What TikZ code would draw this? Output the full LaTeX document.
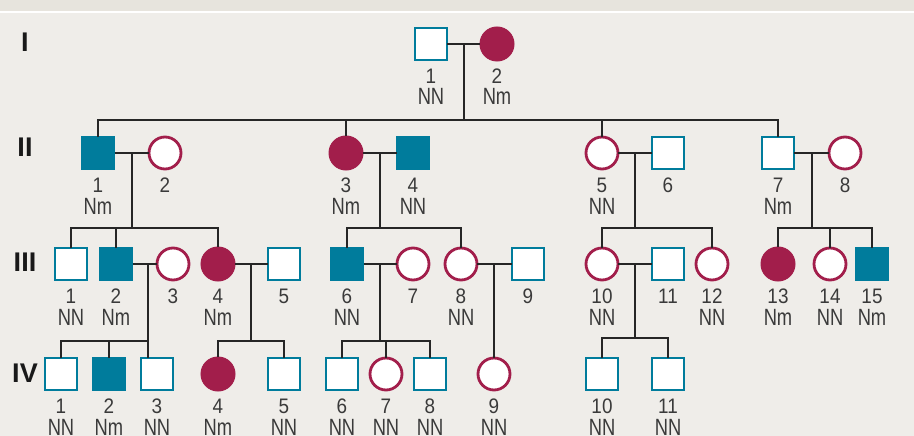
\documentclass[tikz,border=0pt]{standalone}
\usepackage{fontspec}
\setmainfont{Liberation Sans}
\newfontfamily\numf{Liberation Sans}[FakeStretch=0.9]
\newfontfamily\genf{Liberation Sans}[FakeStretch=0.78]
\definecolor{bgc}{HTML}{EFEDE9}
\definecolor{bandc}{HTML}{E7E4DD}
\definecolor{tealc}{HTML}{007C9C}
\definecolor{crimc}{HTML}{A21E4B}
\definecolor{linec}{HTML}{262626}
\definecolor{txtc}{HTML}{3A3A3A}
\tikzset{
  sym/.style={inner sep=0pt, outer sep=0pt},
  sqO/.style={sym, rectangle, draw=tealc, fill=white, line width=2.4pt, minimum size=31.6pt},
  sqF/.style={sym, rectangle, draw=tealc, fill=tealc, line width=1pt, minimum size=33pt},
  ciO/.style={sym, circle, draw=crimc, fill=white, line width=2.8pt, minimum size=32pt},
  ciF/.style={sym, circle, draw=crimc, fill=crimc, line width=1pt, minimum size=34pt},
  numtxt/.style={inner sep=0pt, anchor=base, text=txtc, font=\numf\fontsize{21}{22}\selectfont},
  genotxt/.style={inner sep=0pt, anchor=base, text=txtc, font=\genf\fontsize{23.5}{24}\selectfont},
  gentxt/.style={inner sep=0pt, text=black!90, font=\bfseries\fontsize{27}{28}\selectfont},
  conn/.style={draw=linec, line width=2pt},
}
\newcommand\PedP[6]{%
  \node[#2] (#1) at (#3,#4) {};
  \node[numtxt] (#1-n) at (#3,#4+39.5) {#5};
  \node[genotxt] (#1-g) at (#3,#4+61) {#6};
}
\begin{document}
\begin{tikzpicture}[x=1pt,y=-1pt]
\useasboundingbox (0,0) rectangle (914,436);
\fill[bgc] (0,0) rectangle (914,436);
\fill[bandc] (0,0) rectangle (914,11);
\fill[white] (0,11) rectangle (914,13.5);
% generation labels
\node[gentxt] (gI) at (25,42) {I};
\node[gentxt] (gII) at (25,147.5) {II};
\node[gentxt] (gIII) at (25,262) {III};
\node[gentxt] (gIV) at (25,373) {IV};
% coordinates
\coordinate (sI) at (464,120);
\coordinate (mI) at (464,44);
\coordinate (sIIa) at (132,228);
\coordinate (mIIa) at (132,153);
\coordinate (sIIb) at (380,228);
\coordinate (mIIb) at (380,153);
\coordinate (sIIc) at (635,228);
\coordinate (mIIc) at (635,153);
\coordinate (sIId) at (812,228);
\coordinate (mIId) at (812,153);
\coordinate (mIIIa) at (148,264);
\coordinate (sIIIa) at (148,341);
\coordinate (mIIIb) at (251,264);
\coordinate (sIIIb) at (251,341);
\coordinate (mIIIc) at (380,264);
\coordinate (sIIIc) at (380,341);
\coordinate (mIIId) at (494,264);
\coordinate (mIIIe) at (635,264);
\coordinate (sIIIe) at (635,338);
% people
\PedP{I-1}{sqO}{431}{44}{1}{NN}
\PedP{I-2}{ciF}{497}{44}{2}{Nm}
\PedP{II-1}{sqF}{98}{153}{1}{Nm}
\PedP{II-2}{ciO}{165}{153}{2}{}
\PedP{II-3}{ciF}{346}{153}{3}{Nm}
\PedP{II-4}{sqF}{413}{153}{4}{NN}
\PedP{II-5}{ciO}{602}{153}{5}{NN}
\PedP{II-6}{sqO}{668}{153}{6}{}
\PedP{II-7}{sqO}{778}{153}{7}{Nm}
\PedP{II-8}{ciO}{845}{153}{8}{}
\PedP{III-1}{sqO}{71}{264}{1}{NN}
\PedP{III-2}{sqF}{116}{264}{2}{Nm}
\PedP{III-3}{ciO}{173}{264}{3}{}
\PedP{III-4}{ciF}{218}{264}{4}{Nm}
\PedP{III-5}{sqO}{284}{264}{5}{}
\PedP{III-6}{sqF}{347}{264}{6}{NN}
\PedP{III-7}{ciO}{413}{264}{7}{}
\PedP{III-8}{ciO}{461}{264}{8}{NN}
\PedP{III-9}{sqO}{528}{264}{9}{}
\PedP{III-10}{ciO}{602}{264}{10}{NN}
\PedP{III-11}{sqO}{668}{264}{11}{}
\PedP{III-12}{ciO}{712}{264}{12}{NN}
\PedP{III-13}{ciF}{778}{264}{13}{Nm}
\PedP{III-14}{ciO}{830}{264}{14}{NN}
\PedP{III-15}{sqF}{872}{264}{15}{Nm}
\PedP{IV-1}{sqO}{61}{374}{1}{NN}
\PedP{IV-2}{sqF}{109}{374}{2}{Nm}
\PedP{IV-3}{sqO}{157}{374}{3}{NN}
\PedP{IV-4}{ciF}{218}{374}{4}{Nm}
\PedP{IV-5}{sqO}{284}{374}{5}{NN}
\PedP{IV-6}{sqO}{342}{374}{6}{NN}
\PedP{IV-7}{ciO}{386}{374}{7}{NN}
\PedP{IV-8}{sqO}{430}{374}{8}{NN}
\PedP{IV-9}{ciO}{494}{374}{9}{NN}
\PedP{IV-10}{sqO}{602}{374}{10}{NN}
\PedP{IV-11}{sqO}{668}{374}{11}{NN}
% marriage lines
\path[conn] (I-1) -- (I-2);
\path[conn] (II-1) -- (II-2);
\path[conn] (II-3) -- (II-4);
\path[conn] (II-5) -- (II-6);
\path[conn] (II-7) -- (II-8);
\path[conn] (III-2) -- (III-3);
\path[conn] (III-4) -- (III-5);
\path[conn] (III-6) -- (III-7);
\path[conn] (III-8) -- (III-9);
\path[conn] (III-10) -- (III-11);
% descent lines
\path[conn] (mI) -- (sI);
\path[conn] (mIIa) -- (sIIa);
\path[conn] (mIIb) -- (sIIb);
\path[conn] (mIIc) -- (sIIc);
\path[conn] (mIId) -- (sIId);
\path[conn] (mIIIa) -- (sIIIa);
\path[conn] (mIIIb) -- (sIIIb);
\path[conn] (mIIIc) -- (sIIIc);
\path[conn] (mIIIe) -- (sIIIe);
\path[conn] (mIIId) -- (IV-9);
% sibship lines
\path[conn] (II-1.north) -- (II-1.north |- sI) -- (II-7.north |- sI) -- (II-7.north);
\path[conn] (II-3.north) -- (II-3.north |- sI);
\path[conn] (II-5.north) -- (II-5.north |- sI);
\path[conn] (III-1.north) -- (III-1.north |- sIIa) -- (III-4.north |- sIIa) -- (III-4.north);
\path[conn] (III-2.north) -- (III-2.north |- sIIa);
\path[conn] (III-6.north) -- (III-6.north |- sIIb) -- (III-8.north |- sIIb) -- (III-8.north);
\path[conn] (III-10.north) -- (III-10.north |- sIIc) -- (III-12.north |- sIIc) -- (III-12.north);
\path[conn] (III-13.north) -- (III-13.north |- sIId) -- (III-15.north |- sIId) -- (III-15.north);
\path[conn] (III-14.north) -- (III-14.north |- sIId);
\path[conn] (IV-1.north) -- (IV-1.north |- sIIIa) -- (sIIIa) -- (sIIIa |- IV-3.north);
\path[conn] (IV-2.north) -- (IV-2.north |- sIIIa);
\path[conn] (IV-4.north) -- (IV-4.north |- sIIIb) -- (IV-5.north |- sIIIb) -- (IV-5.north);
\path[conn] (IV-6.north) -- (IV-6.north |- sIIIc) -- (IV-8.north |- sIIIc) -- (IV-8.north);
\path[conn] (IV-7.north) -- (IV-7.north |- sIIIc);
\path[conn] (IV-10.north) -- (IV-10.north |- sIIIe) -- (IV-11.north |- sIIIe) -- (IV-11.north);
\end{tikzpicture}
\end{document}
